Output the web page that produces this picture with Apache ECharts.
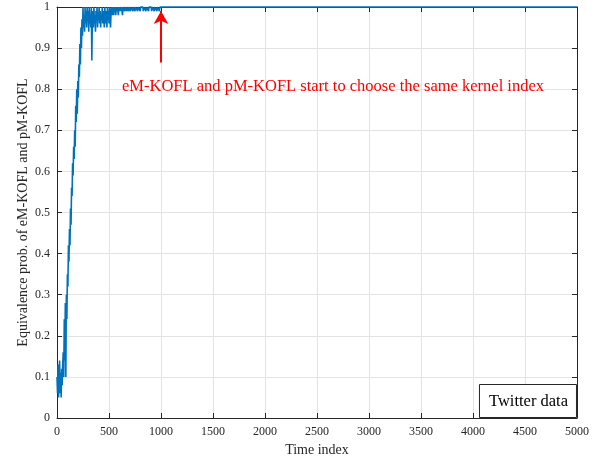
<!DOCTYPE html>
<html>
<head>
<meta charset="utf-8">
<script src="https://cdn.jsdelivr.net/npm/echarts@6/dist/echarts.min.js"></script>
<style>
  html, body { margin: 0; padding: 0; background: #fff; }
  #chart { width: 608px; height: 466px; }
</style>
</head>
<body>
<div id="chart"></div>
<script>
// Equivalence probability, sampled every `sampleStep` time indices from 0 to 1000
const sampleStep = 5;
const equivProb = [
  0.10, 0.06, 0.13, 0.05, 0.09, 0.14, 0.06, 0.11, 0.05, 0.12,
  0.08, 0.13, 0.16, 0.10, 0.24, 0.14, 0.28, 0.10, 0.30, 0.24,
  0.35, 0.32, 0.42, 0.38, 0.46, 0.42, 0.51, 0.47, 0.56, 0.54,
  0.62, 0.59, 0.66, 0.63, 0.70, 0.66, 0.76, 0.72, 0.80, 0.74,
  0.82, 0.78, 0.86, 0.83, 0.91, 0.86, 0.95, 0.90, 0.97, 0.93,
  1.00, 0.95, 0.98, 0.94, 1.00, 0.96, 0.99, 0.95, 1.00, 0.97,
  0.99, 0.94, 1.00, 0.96, 0.98, 0.95, 1.00, 0.87, 0.97, 0.99,
  0.95, 1.00, 0.96, 0.98, 0.94, 0.99, 0.97, 1.00, 0.95, 0.98,
  0.97, 1.00, 0.96, 0.99, 0.95, 0.98, 0.97, 1.00, 0.96, 0.99,
  0.97, 0.95, 1.00, 0.96, 0.99, 0.98, 0.95, 1.00, 0.97, 0.99,
  0.96, 1.00, 0.98, 0.95, 0.99, 1.00, 0.98, 1.00, 0.99, 0.98,
  1.00, 0.99, 1.00, 0.98, 1.00, 0.99, 1.00, 1.00, 0.98, 1.00,
  0.99,
  1.00, 1.00, 0.99, 1.00, 1.00, 0.98, 1.00, 1.00, 1.00, 0.99,
  1.00, 1.00, 0.99, 1.00, 1.00, 1.00, 0.99, 1.00, 1.00, 1.00,
  0.99, 1.00, 1.00, 1.00, 1.00, 0.99, 1.00, 1.00, 1.00, 0.99,
  1.00, 1.00, 1.00, 1.00, 0.99, 1.00, 1.00, 1.00, 1.00, 0.99,
  1.00, 1.00, 1.00, 1.00, 1.00, 0.99, 1.00, 1.00, 1.00, 1.00,
  0.99, 1.00, 1.00, 1.00, 1.00, 0.99, 1.00, 1.00, 1.00, 1.00,
  1.00, 0.99, 1.00, 1.00, 1.00, 1.00, 0.99, 1.00, 1.00, 1.00,
  1.00, 0.99, 1.00, 1.00, 1.00, 1.00, 0.99, 1.00, 1.00, 1.00
];
// After the agreement point the probability stays at 1 to the end of the run
const steadyTime = [5000];
const steadyProb = [1];

// Axis ranges and ticks
const xTicks = { min: 0, max: 5000, interval: 500 };
const yTicks = { min: 0, max: 1, interval: 0.1 };

// Annotation: arrow at the agreement time plus its caption
const arrowTime = 1000;
const arrowFrom = 0.865;
const arrowTo = 0.99;
const captionAt = [625, 0.805];
const captionText = 'eM-KOFL and pM-KOFL start to choose the same kernel index';
const boxText = 'Twitter data';

const seriesData = equivProb.map((v, i) => [i * sampleStep, v])
  .concat(steadyTime.map((t, i) => [t, steadyProb[i]]));

const FONT = '"Liberation Serif", "Times New Roman", serif';
const INK = '#262626';

const chart = echarts.init(document.getElementById('chart'), null, { renderer: 'canvas' });

const baseAxis = {
  axisLine: { show: true, onZero: false, lineStyle: { color: INK, width: 1 } },
  axisTick: { show: true, inside: true, length: 5, lineStyle: { color: INK, width: 1 } },
  splitLine: { show: true, lineStyle: { color: '#e3e3e3', width: 1 } }
};
const plainNumber = v => String(Math.round(v * 10) / 10);

chart.setOption({
  animation: false,
  backgroundColor: '#fff',
  grid: { left: 57, right: 31, top: 7, bottom: 48, containLabel: false },
  title: {
    text: boxText,
    right: 31,
    bottom: 48,
    padding: [9, 9, 8, 10],
    borderColor: INK,
    borderWidth: 1,
    backgroundColor: '#fff',
    textStyle: { fontFamily: FONT, fontSize: 16.5, fontWeight: 'normal', color: '#000' }
  },
  xAxis: [
    Object.assign({}, baseAxis, {
      type: 'value', position: 'bottom',
      min: xTicks.min, max: xTicks.max, interval: xTicks.interval,
      name: 'Time index', nameLocation: 'middle', nameGap: 25,
      nameTextStyle: { fontFamily: FONT, fontSize: 14, color: INK },
      axisLabel: { color: INK, fontFamily: FONT, fontSize: 12, margin: 8, formatter: plainNumber }
    }),
    Object.assign({}, baseAxis, {
      type: 'value', position: 'top',
      min: xTicks.min, max: xTicks.max, interval: xTicks.interval,
      axisLabel: { show: false }, splitLine: { show: false }
    })
  ],
  yAxis: [
    Object.assign({}, baseAxis, {
      type: 'value', position: 'left',
      min: yTicks.min, max: yTicks.max, interval: yTicks.interval,
      name: 'Equivalence prob. of eM-KOFL and pM-KOFL', nameLocation: 'middle', nameGap: 27,
      nameMoveOverlap: false,
      nameTextStyle: { fontFamily: FONT, fontSize: 14, color: INK },
      axisLabel: { color: INK, fontFamily: FONT, fontSize: 12, margin: 7, formatter: plainNumber }
    }),
    Object.assign({}, baseAxis, {
      type: 'value', position: 'right',
      min: yTicks.min, max: yTicks.max, interval: yTicks.interval,
      axisLabel: { show: false }, splitLine: { show: false }
    })
  ],
  series: [
    {
      type: 'line',
      xAxisIndex: 0,
      yAxisIndex: 0,
      data: seriesData,
      showSymbol: false,
      symbol: 'none',
      clip: false,
      lineStyle: { color: '#0072BD', width: 1.6 },
      markLine: {
        silent: true,
        symbol: ['none', 'arrow'],
        symbolSize: [11, 13],
        lineStyle: { color: '#ff0000', width: 2, type: 'solid' },
        label: { show: false },
        data: [[
          { coord: [arrowTime, arrowFrom] },
          { coord: [arrowTime, arrowTo] }
        ]]
      },
      markPoint: {
        silent: true,
        symbol: 'circle',
        symbolSize: 0,
        label: {
          show: true,
          position: 'right',
          distance: 0,
          formatter: captionText,
          color: '#ff0000',
          fontFamily: FONT,
          fontSize: 16.5
        },
        data: [{ coord: captionAt }]
      }
    }
  ]
});
</script>
</body>
</html>
